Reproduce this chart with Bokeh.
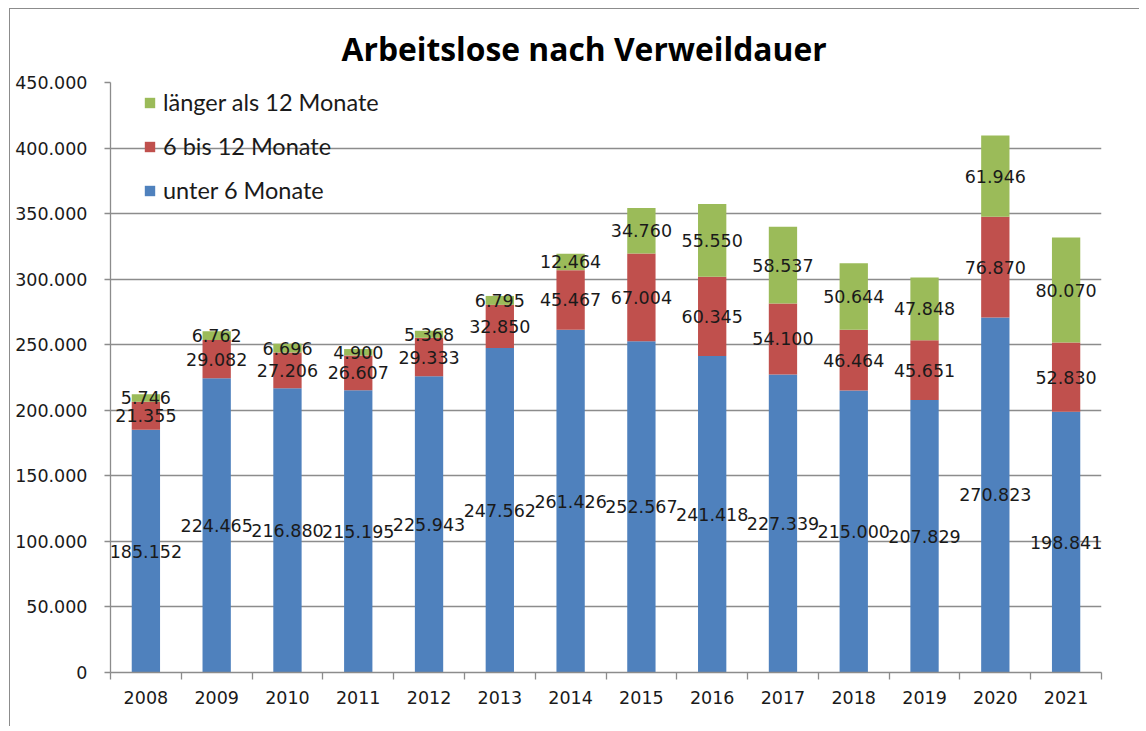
from bokeh.plotting import figure
from bokeh.models import (ColumnDataSource, Legend, LegendItem, FixedTicker,
                          CustomJSTickFormatter, Range1d)
from bokeh.core.properties import value
from bokeh.embed import file_html
from bokeh.resources import INLINE

years = [2008, 2009, 2010, 2011, 2012, 2013, 2014, 2015, 2016, 2017, 2018, 2019, 2020, 2021]
unter_6 = [185152, 224465, 216880, 215195, 225943, 247562, 261426, 252567, 241418, 227339, 215000, 207829, 270823, 198841]
bis_12 = [21355, 29082, 27206, 26607, 29333, 32850, 45467, 67004, 60345, 54100, 46464, 45651, 76870, 52830]
laenger_12 = [5746, 6762, 6696, 4900, 5368, 6795, 12464, 34760, 55550, 58537, 50644, 47848, 61946, 80070]
series_names = ["unter 6 Monate", "6 bis 12 Monate", "länger als 12 Monate"]
y_ticks = [0, 50000, 100000, 150000, 200000, 250000, 300000, 350000, 400000, 450000]
chart_title = "Arbeitslose nach Verweildauer"

colors = ["#4F81BD", "#C0504D", "#9BBB59"]

def de(v):
    return f"{v:,}".replace(",", ".")

src = ColumnDataSource(dict(year=years, s0=unter_6, s1=bis_12, s2=laenger_12))

p = figure(width=1130, height=718, output_backend="svg", toolbar_location=None,
           x_range=Range1d(years[0] - 0.5, years[-1] + 0.5),
           y_range=Range1d(0, 450000),
           min_border_left=100, min_border_top=73, min_border_right=39, min_border_bottom=55)
p.styles = {"margin-left": "9px", "margin-top": "8px",
            "border-left": "1px solid #8c8c8c", "border-top": "1px solid #8c8c8c"}
p.outline_line_color = None
p.background_fill_color = "white"

p.title.text = chart_title
p.title.align = "left"
p.title.text_font = "Open Sans"
p.title.text_font_style = "bold"
p.title.text_font_size = "31.8px"
p.title.text_color = "#000000"
p.title.offset = 231
p.title.standoff = 25

rs = p.vbar_stack(["s0", "s1", "s2"], x="year", width=0.4, source=src,
                  color=colors, line_color=None)

# data labels at segment centres
lx, ly, lt = [], [], []
for i, yr in enumerate(years):
    base = 0
    for arr in (unter_6, bis_12, laenger_12):
        v = arr[i]
        lx.append(yr)
        ly.append(base + v / 2)
        lt.append(de(v))
        base += v
lsrc = ColumnDataSource(dict(x=lx, y=ly, t=lt))
p.text(x="x", y="y", text="t", source=lsrc, text_align="center", text_baseline="middle",
       text_font=value("DejaVu Sans"), text_font_size="17.5px", text_color="#1a1a1a")

# axes
p.xgrid.grid_line_color = None
p.ygrid.grid_line_color = "#8c8c8c"
p.ygrid.grid_line_width = 1.3
p.yaxis.ticker = FixedTicker(ticks=y_ticks)
p.yaxis.formatter = CustomJSTickFormatter(code="""
    return tick.toString().replace(/\\B(?=(\\d{3})+(?!\\d))/g, ".");
""")
p.xaxis.ticker = FixedTicker(ticks=years, minor_ticks=[y - 0.5 for y in years] + [years[-1] + 0.5])
for ax in (p.xaxis[0], p.yaxis[0]):
    ax.axis_line_color = "#8c8c8c"
    ax.axis_line_width = 1.3
    ax.major_label_text_font = "DejaVu Sans"
    ax.major_label_text_font_size = "17.5px"
    ax.major_label_text_color = "#1a1a1a"
p.xaxis.major_tick_line_color = None
p.xaxis.major_tick_out = 0
p.xaxis.major_tick_in = 0
p.xaxis.minor_tick_line_color = "#8c8c8c"
p.xaxis.minor_tick_line_width = 1.3
p.xaxis.minor_tick_out = 7
p.xaxis.minor_tick_in = 0
p.xaxis.major_label_standoff = 11
p.yaxis.major_tick_line_color = "#8c8c8c"
p.yaxis.major_tick_line_width = 1.3
p.yaxis.major_tick_out = 6
p.yaxis.major_tick_in = 0
p.yaxis.minor_tick_line_color = None
p.yaxis.major_label_standoff = 17

# legend (reversed order)
items = [LegendItem(label=series_names[k], renderers=[rs[k]]) for k in (2, 1, 0)]
leg = Legend(items=items, location=(33, 467), padding=0, margin=0, spacing=14,
             label_height=30, glyph_height=13, glyph_width=13, label_standoff=7,
             label_text_font="Lato", label_text_font_size="23.5px", label_text_color="#1a1a1a",
             background_fill_alpha=0, border_line_color=None)
p.add_layout(leg)

open("out.html", "w").write(file_html(p, INLINE))
